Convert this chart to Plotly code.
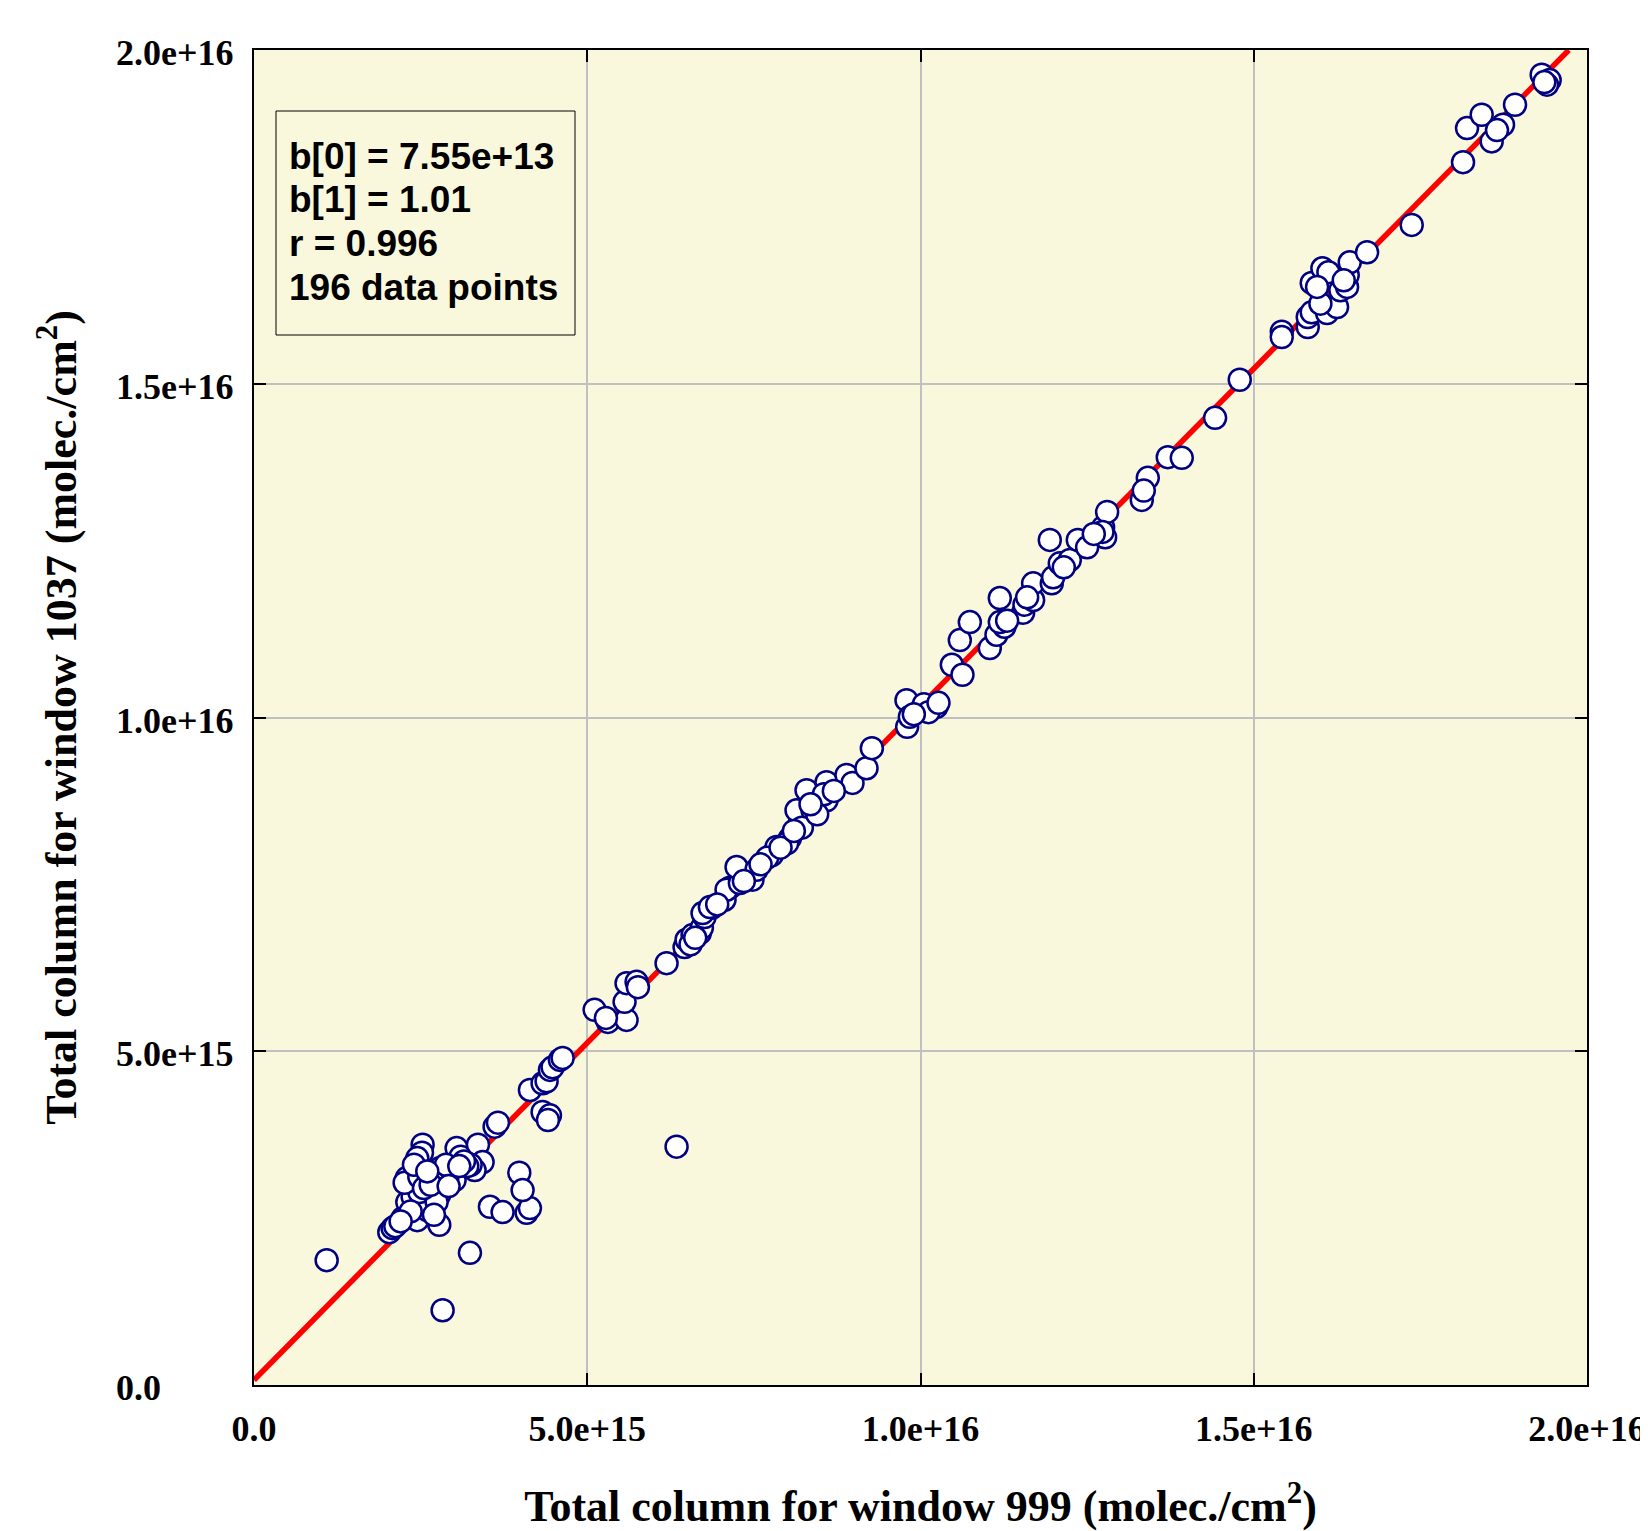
import numpy as np
import plotly.graph_objects as go

# ---------------- data (units of 1e15 molec/cm^2) ----------------
x999_e15 = [
    1.09, 2.83, 3.24, 6.34,
    2.03, 2.08, 2.12, 2.23, 2.45, 2.78, 2.30, 2.38, 2.53, 2.60, 2.48,
    2.76, 2.78, 2.74, 2.29, 2.26, 2.48, 2.79, 2.71,
    3.01, 2.98, 2.97, 3.01, 2.90, 2.85, 2.53, 2.52, 2.45, 2.40,
    3.04, 3.10, 3.36, 3.43, 3.31, 3.25, 3.20,
    3.54, 3.73, 4.09, 4.14, 3.98, 4.03, 3.61, 3.66,
    4.33, 4.44, 4.41, 4.14, 4.33, 4.39, 4.44, 4.48, 4.59, 4.63,
    5.11, 5.31, 5.59, 5.56, 5.59, 5.74, 5.76, 5.28, 6.19,
    6.46, 6.49, 6.58, 6.69, 6.72, 6.76, 6.55,
    6.87, 7.06, 7.14, 7.09, 7.29, 7.48, 6.73, 6.84,
    7.24, 7.54, 7.77, 7.84, 7.70, 7.60,
    8.04, 8.19, 8.14, 8.38, 8.29, 8.00, 8.22,
    8.59, 8.59, 8.89, 8.98, 9.19, 9.27, 8.55, 8.45,
    9.79, 10.03, 10.24, 9.80, 9.84, 10.05, 10.12, 10.27,
    10.47, 10.63, 10.59, 10.74,
    11.04, 11.14, 11.26, 11.19, 11.19,
    11.54, 11.56, 11.69, 11.69,
    11.97, 11.99, 12.09, 12.24, 11.94, 12.36, 12.50, 12.77, 12.74, 12.80,
    12.73, 13.32, 13.41, 13.71, 13.92, 14.42, 14.79,
    15.42, 15.42, 15.81, 15.81, 15.87,
    16.10, 16.25, 16.30, 16.40, 16.41, 16.44,
    15.87, 16.03, 16.12, 16.70, 17.37,
    18.14, 18.20, 18.42, 18.57, 18.74, 18.92,
    19.32, 19.44, 19.40,
    2.35, 2.55, 2.65, 2.88, 3.15, 2.70, 2.20, 3.08, 2.60, 2.92,
    6.62, 6.95, 7.35, 7.90, 8.10, 8.70, 8.35, 9.90,
    11.30, 11.60, 12.15, 12.60, 13.35,
    16.00, 16.35, 15.95, 19.36, 18.65,
]
y1037_e15 = [
    1.87, 1.12, 1.98, 3.57,
    2.29, 2.35, 2.38, 2.50, 2.47, 2.40, 2.74, 2.82, 2.70, 2.62, 2.89,
    2.89, 2.85, 2.74, 3.10, 3.03, 3.12, 3.25, 3.15,
    3.22, 3.19, 3.15, 3.07, 3.10, 3.05, 3.60, 3.48, 3.40, 3.30,
    3.55, 3.42, 3.60, 3.34, 3.22, 3.30, 3.28,
    2.67, 2.59, 2.58, 2.65, 3.18, 2.92, 3.87, 3.93,
    4.09, 4.04, 3.97, 4.42, 4.52, 4.55, 4.72, 4.76, 4.87, 4.90,
    5.62, 5.44, 5.47, 5.74, 6.02, 6.04, 5.96, 5.50, 6.32,
    6.56, 6.67, 6.74, 6.77, 6.85, 7.01, 6.60,
    7.15, 7.27, 7.45, 7.42, 7.52, 7.57, 7.07, 7.16,
    7.76, 7.72, 7.94, 8.06, 7.90, 7.80,
    8.19, 8.42, 8.61, 8.61, 8.91, 8.12, 8.35,
    9.03, 8.76, 9.14, 9.02, 9.24, 9.54, 8.85, 8.55,
    10.26, 10.14, 10.16, 9.86, 10.01, 10.20, 10.08, 10.22,
    10.79, 10.64, 11.16, 11.43,
    11.04, 11.24, 11.36, 11.43, 11.79,
    11.57, 11.69, 11.76, 12.01,
    12.01, 12.10, 12.31, 12.36, 12.66, 12.66, 12.55, 12.70, 12.85, 13.08,
    12.78, 13.26, 13.59, 13.90, 13.89, 14.49, 15.06,
    15.78, 15.70, 15.85, 16.00, 16.07,
    16.06, 16.15, 16.40, 16.45, 16.63, 16.82,
    16.51, 16.73, 16.67, 16.97, 17.38,
    18.32, 18.83, 19.03, 18.63, 18.88, 19.18,
    19.63, 19.55, 19.48,
    2.60, 2.95, 3.00, 3.30, 3.35, 2.55, 2.45, 3.28, 3.20, 2.98,
    6.70, 7.20, 7.55, 8.05, 8.30, 8.90, 8.70, 10.05,
    11.45, 11.80, 12.25, 12.75, 13.40,
    16.20, 16.55, 16.45, 19.52, 18.80,
]

# regression coefficients shown in the box
b0 = 7.55e13
b1 = 1.01
r_value = 0.996
n_points = 196

axis_max = 2.0e16
tick_vals = [0, 5e15, 1e16, 1.5e16, 2e16]
tick_text = ["0.0", "5.0e+15", "1.0e+16", "1.5e+16", "2.0e+16"]

stats_lines = [
    "b[0] = 7.55e+13",
    "b[1] = 1.01",
    "r = 0.996",
    "196 data points",
]

x_title = "Total column for window 999 (molec./cm<sup>2</sup>)"
y_title = "Total column for window 1037 (molec./cm<sup>2</sup>)"

# ---------------- figure ----------------
x = np.array(x999_e15) * 1e15
y = np.array(y1037_e15) * 1e15

fit_x = np.array([0.0, (axis_max - b0) / b1])
fit_y = b0 + b1 * fit_x

BG = "#FAF8DC"
SERIF = "Liberation Serif"
SANS = "Liberation Sans"

# page has an 8px body margin; figure placed accordingly
W, H = 1640, 1523
ML, MR, MT, MB = 246, 61, 42, 146
PW = W - ML - MR
PH = H - MT - MB


def px_x(px_page):
    return (px_page - 8 - ML) / PW


def px_y(py_page):
    return (H - MB - (py_page - 8)) / PH


fig = go.Figure()
fig.add_trace(go.Scatter(
    x=fit_x, y=fit_y, mode="lines",
    line=dict(color="#FF0000", width=5.5),
    showlegend=False, hoverinfo="skip",
))
fig.add_trace(go.Scatter(
    x=x, y=y, mode="markers",
    marker=dict(symbol="circle", size=22, color="white",
                line=dict(color="#000080", width=2.5)),
    showlegend=False,
))

axis_common = dict(
    range=[0, axis_max],
    tickmode="array", tickvals=tick_vals,
    ticks="inside", ticklen=12, tickwidth=2, tickcolor="black",
    showline=True, linecolor="black", linewidth=2, mirror="ticks",
    showgrid=True, gridcolor="#C0C0C0", gridwidth=1.5,
    zeroline=False,
    automargin=False,
)

fig.update_layout(
    width=W, height=H,
    margin=dict(l=ML, r=MR, t=MT, b=MB),
    paper_bgcolor="white",
    plot_bgcolor=BG,
    xaxis=dict(
        **axis_common,
        ticktext=tick_text,
        tickfont=dict(family=SERIF, size=36, color="black", weight="bold"),
        ticklabelstandoff=11,
        title=dict(text=x_title, standoff=42,
                   font=dict(family=SERIF, size=44, color="black", weight="bold")),
    ),
    yaxis=dict(
        **axis_common,
        showticklabels=False,
        title=dict(text=y_title, standoff=162,
                   font=dict(family=SERIF, size=44, color="black", weight="bold")),
    ),
)

# y tick labels (left-aligned as in the original)
for v, t in zip(tick_vals, tick_text):
    fig.add_annotation(
        x=px_x(114), xref="paper", xanchor="left",
        y=v, yref="y", yanchor="middle", yshift=-3,
        text=t, showarrow=False,
        font=dict(family=SERIF, size=36, color="black", weight="bold"),
    )

# stats box
fig.add_shape(
    type="rect", xref="paper", yref="paper",
    x0=px_x(276), x1=px_x(575),
    y0=px_y(335), y1=px_y(111),
    line=dict(color="black", width=1), fillcolor=BG, layer="above",
)
line_centers_px = [156, 199.5, 243, 287]
for txt, cy in zip(stats_lines, line_centers_px):
    fig.add_annotation(
        x=px_x(287), xref="paper", xanchor="left",
        y=px_y(cy), yref="paper", yanchor="middle",
        text=txt, showarrow=False,
        font=dict(family=SANS, size=37, color="black", weight="bold"),
    )

fig.write_html("out.html")
